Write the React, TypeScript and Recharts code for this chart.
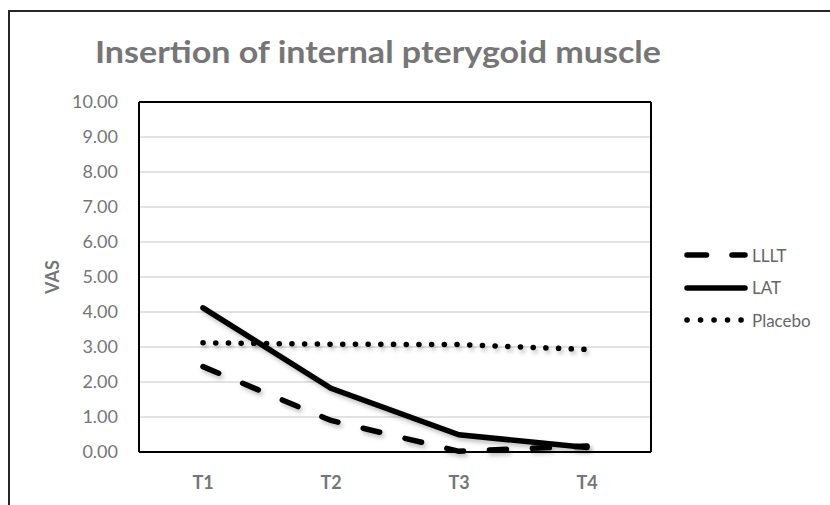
import {
  LineChart,
  Line,
  XAxis,
  YAxis,
  CartesianGrid,
} from "recharts";

// values
const categories = ["T1", "T2", "T3", "T4"];
const llltValues = [2.44, 0.9, 0.02, 0.17];
const latValues = [4.12, 1.82, 0.49, 0.13];
const placeboValues = [3.12, 3.08, 3.07, 2.93];
const yTicks = [0, 1, 2, 3, 4, 5, 6, 7, 8, 9, 10];

const chartData = categories.map((name, i) => ({
  name,
  LLLT: llltValues[i],
  LAT: latValues[i],
  Placebo: placeboValues[i],
}));

const series = [
  { key: "LLLT", dash: "17 26", legendDash: "19.5 25.5" },
  { key: "LAT", dash: undefined, legendDash: undefined },
  { key: "Placebo", dash: "0.1 12.6", legendDash: "0.1 13.4" },
];

const FONT = "Lato, 'Open Sans', sans-serif";
const GRAY = "#767676";
const frameLine = { stroke: "#000", strokeWidth: 2 };

const LegendBox = () => (
  <div style={{ position: "absolute", left: 682, top: 239, fontFamily: FONT }}>
    {series.map((s) => (
      <div key={s.key} style={{ display: "flex", alignItems: "center", height: 32.5 }}>
        <svg width={68} height={12}>
          <line
            x1={5}
            x2={63}
            y1={6}
            y2={6}
            stroke="#000"
            strokeWidth={5.5}
            strokeLinecap="round"
            strokeDasharray={s.legendDash}
          />
        </svg>
        <span style={{ fontSize: 17, color: "#666", marginLeft: 2 }}>{s.key}</span>
      </div>
    ))}
  </div>
);

const App = () => {
  return (
    <div
      style={{
        position: "absolute",
        left: 0,
        top: 0,
        width: 830,
        height: 505,
        overflow: "hidden",
        background: "#fff",
      }}
    >
      {/* outer chart frame, cut off on the right and bottom */}
      <div
        style={{
          position: "absolute",
          left: 8,
          top: 10,
          width: 1000,
          height: 800,
          border: "2px solid #262626",
        }}
      />
      <svg style={{ position: "absolute", left: 0, top: 0 }} width={830} height={100}>
        <text
          x={378}
          y={63}
          textAnchor="middle"
          textLength={566}
          lengthAdjust="spacingAndGlyphs"
          fontFamily={FONT}
          fontWeight="bold"
          fontSize={31}
          fill={GRAY}
        >
          Insertion of internal pterygoid muscle
        </text>
      </svg>
      <div style={{ position: "absolute", left: 0, top: 0 }}>
        <LineChart
          width={830}
          height={505}
          data={chartData}
          margin={{ top: 102, right: 179, bottom: 0, left: 0 }}
        >
          <CartesianGrid vertical={false} stroke="#d9d9d9" strokeWidth={1.5} />
          {/* top and right edges of the plot frame */}
          <CartesianGrid
            stroke="#000"
            strokeWidth={2}
            horizontalCoordinatesGenerator={({ offset }: any) => [offset.top]}
            verticalCoordinatesGenerator={({ offset }: any) => [offset.left + offset.width]}
          />
          <XAxis
            dataKey="name"
            height={53}
            padding={{ left: 64, right: 64 }}
            tickSize={0}
            tickMargin={24}
            axisLine={frameLine}
            tick={{ fill: GRAY, fontSize: 18, fontWeight: "bold", fontFamily: FONT }}
          />
          <YAxis
            width={139}
            domain={[0, 10]}
            ticks={yTicks}
            interval={0}
            tickSize={0}
            tickMargin={21}
            tickFormatter={(v: number) => v.toFixed(2)}
            axisLine={frameLine}
            tick={{ fill: GRAY, fontSize: 18, fontFamily: FONT }}
            label={{
              content: ({ viewBox }: any) => {
                const cy = viewBox.y + viewBox.height / 2;
                return (
                  <text
                    x={52}
                    y={cy}
                    transform={`rotate(-90, 52, ${cy})`}
                    textAnchor="middle"
                    dominantBaseline="central"
                    fontFamily={FONT}
                    fontWeight="bold"
                    fontSize={18}
                    fill={GRAY}
                  >
                    VAS
                  </text>
                );
              },
            }}
          />
          {series.map((s) => (
            <Line
              key={s.key}
              dataKey={s.key}
              type="linear"
              stroke="#000"
              strokeWidth={5.5}
              strokeLinecap="round"
              strokeDasharray={s.dash}
              dot={false}
              activeDot={false}
              isAnimationActive={false}
              style={{ filter: "drop-shadow(2px 3px 2px rgba(0,0,0,0.25))" }}
            />
          ))}
        </LineChart>
      </div>
      <LegendBox />
    </div>
  );
};

export default App;
